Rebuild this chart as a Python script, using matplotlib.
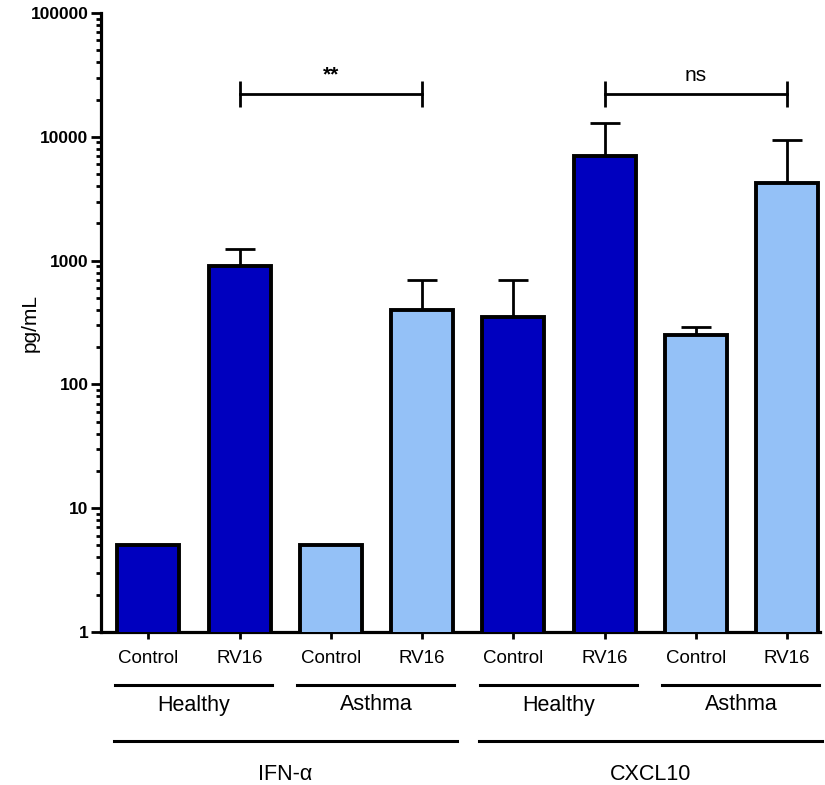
import numpy as np
import matplotlib
matplotlib.use("Agg")
import matplotlib.pyplot as plt
import matplotlib.transforms as mtransforms
from matplotlib.ticker import FixedLocator, LogLocator, NullFormatter

plt.rcParams['font.family'] = ['Liberation Sans', 'DejaVu Sans']

# data
conditions = ["Control", "RV16", "Control", "RV16", "Control", "RV16", "Control", "RV16"]
groups = ["Healthy", "Asthma", "Healthy", "Asthma"]
analytes = ["IFN-\u03b1", "CXCL10"]
means = [5, 900, 5, 400, 350, 7000, 250, 4200]
upper = [None, 1250, None, 700, 700, 13000, 290, 9500]
bar_colors = ["#0000BF", "#0000BF", "#94C1F7", "#94C1F7",
              "#0000BF", "#0000BF", "#94C1F7", "#94C1F7"]
yticks = [1, 10, 100, 1000, 10000, 100000]
sig_pairs = [(1, 3, "**"), (5, 7, "ns")]
sig_level = 22000

x = np.arange(len(means))

fig = plt.figure(figsize=(8.25, 7.85), dpi=100)
ax = fig.add_axes([0.1224, 0.1949, 0.8715, 0.7885])

ax.bar(x, means, width=0.68, color=bar_colors, edgecolor="black",
       linewidth=2.8, zorder=3)

has_err = [i for i, u in enumerate(upper) if u is not None]
ex = x[has_err]
ey = np.array([means[i] for i in has_err], dtype=float)
eu = np.array([upper[i] - means[i] for i in has_err], dtype=float)
ax.errorbar(ex, ey, yerr=[np.zeros_like(eu), eu], fmt="none", ecolor="black",
            elinewidth=2, capsize=10.8, capthick=2, zorder=2)

ax.set_yscale("log")
ax.set_ylim(1, 100000)
ax.set_xlim(-0.52, 7.36)
ax.yaxis.set_major_locator(FixedLocator(yticks))
ax.set_yticklabels([str(v) for v in yticks], fontsize=12.5, fontweight="bold")
ax.yaxis.set_minor_locator(LogLocator(base=10, subs=np.arange(2, 10)))
ax.yaxis.set_minor_formatter(NullFormatter())
ax.tick_params(axis="y", which="major", length=7, width=2, pad=2)
ax.tick_params(axis="y", which="minor", length=3.5, width=2)

ax.set_xticks(x)
ax.set_xticklabels(conditions, fontsize=13.5)
ax.tick_params(axis="x", length=5, width=2, pad=8)

for side in ["top", "right"]:
    ax.spines[side].set_visible(False)
for side in ["left", "bottom"]:
    ax.spines[side].set_linewidth(2.3)

ax.set_ylabel("pg/mL", fontsize=15)
ax.yaxis.set_label_coords(-0.085, 0.5)

# significance brackets
for a, b, label in sig_pairs:
    ax.plot([a, b], [sig_level, sig_level], color="black", lw=2, zorder=4)
    ax.plot([a, b], [sig_level, sig_level], linestyle="none", marker="|",
            markersize=19, markeredgewidth=2, color="black", zorder=4)
    ax.annotate(label, xy=((a + b) / 2, sig_level), xytext=(0, 7),
                textcoords="offset points", ha="center", va="bottom",
                fontsize=15, fontweight="bold" if "*" in label else "normal")

# group annotations below the axis
trans = mtransforms.blended_transform_factory(ax.transData, fig.transFigure)
for g, name in enumerate(groups):
    s = 2 * g
    ax.plot([s - 0.37, s + 1.35], [1 - 685 / 785] * 2, color="black", lw=2.2,
            transform=trans, clip_on=False)
    ax.text(s + 0.5, 1 - 705 / 785, name, transform=trans, ha="center",
            va="center", fontsize=15.5)
for k, name in enumerate(analytes):
    s = 4 * k
    ax.plot([s - 0.38, s + 3.38], [1 - 741 / 785] * 2, color="black", lw=2.2,
            transform=trans, clip_on=False)
    ax.text(s + 1.5, 1 - 775 / 785, name, transform=trans, ha="center",
            va="center", fontsize=15.5)

fig.savefig("out.png", dpi=100)
